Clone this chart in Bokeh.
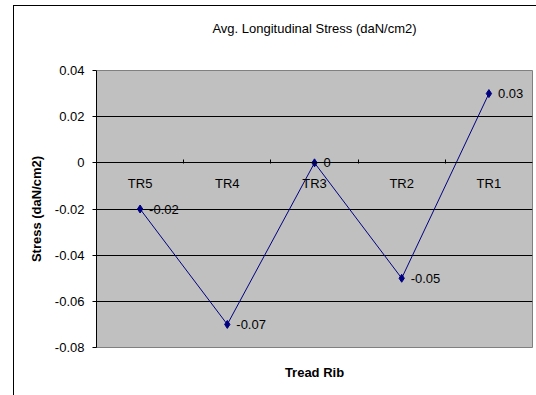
from bokeh.plotting import figure
from bokeh.models import (FixedTicker, Title, ColumnDataSource, Range1d, InlineStyleSheet,
                          LinearAxis)
from bokeh.embed import file_html
from bokeh.resources import INLINE
from bokeh.core.properties import value

categories = ["TR5", "TR4", "TR3", "TR2", "TR1"]
stress = [-0.02, -0.07, 0.0, -0.05, 0.03]
point_labels = ["-0.02", "-0.07", "0", "-0.05", "0.03"]
y_ticks = [-0.08, -0.06, -0.04, -0.02, 0.0, 0.02, 0.04]
y_tick_labels = ["-0.08", "-0.06", "-0.04", "-0.02", "0", "0.02", "0.04"]
chart_title = "Avg. Longitudinal Stress (daN/cm2)"

FONT = "Liberation Sans"
NAVY = "#000080"

xpos = [i + 0.5 for i in range(len(categories))]
src = ColumnDataSource(dict(x=xpos, y=stress, lab=point_labels))

p = figure(width=536, height=395, output_backend="svg", toolbar_location=None, title=None,
           x_axis_location=None,
           x_range=Range1d(0, len(categories)), y_range=Range1d(y_ticks[0], y_ticks[-1]),
           min_border_left=96, min_border_right=4, min_border_top=70, min_border_bottom=46)

p.background_fill_color = "#C0C0C0"
p.border_fill_color = "white"
p.outline_line_color = "#808080"

# spacer between plot area and title: one white (invisible) tick at the left edge
spacer = LinearAxis(ticker=FixedTicker(ticks=[0]), axis_line_color=None,
                    major_tick_line_color="white", minor_tick_line_color=None,
                    major_tick_in=0, major_tick_out=35, minor_tick_in=0, minor_tick_out=0,
                    major_label_standoff=0, major_label_overrides={0: ""},
                    major_label_text_font_size="1px", major_label_text_color="white")
p.add_layout(spacer, "above")

# chart title
p.add_layout(Title(text=chart_title, align="center", text_font=FONT, text_font_size="13px",
                   text_font_style="normal", text_color="black", standoff=0), "above")

# category axis crossing at zero
xa = LinearAxis(fixed_location=0,
                ticker=FixedTicker(ticks=xpos, minor_ticks=[1, 2, 3, 4]),
                major_label_overrides={xv: c for xv, c in zip(xpos, categories)},
                major_tick_line_color=None, major_tick_in=0, major_tick_out=0,
                minor_tick_in=3, minor_tick_out=1, minor_tick_line_color="black",
                axis_line_color="black", major_label_standoff=12,
                major_label_text_font=FONT, major_label_text_font_size="13px",
                major_label_text_color="black")
p.add_layout(xa, "below")

p.add_layout(Title(text="Tread Rib", align="center", text_font=FONT, text_color="black",
                   text_font_size="13px", text_font_style="bold", standoff=31), "below")

# y axis
ya = p.yaxis[0]
ya.ticker = FixedTicker(ticks=y_ticks)
ya.major_label_overrides = {t: s for t, s in zip(y_ticks, y_tick_labels)}
ya.minor_tick_line_color = None
ya.major_tick_in = 0
ya.major_tick_out = 4
ya.major_label_standoff = 8
ya.major_label_text_font = FONT
ya.major_label_text_font_size = "13px"
ya.major_label_text_color = "black"
ya.axis_line_color = "black"
ya.axis_label = "Stress (daN/cm2)"
ya.axis_label_text_font = FONT
ya.axis_label_text_font_size = "13px"
ya.axis_label_text_font_style = "bold"
ya.axis_label_text_color = "black"
ya.axis_label_standoff = 8

p.xgrid.visible = False
p.ygrid.ticker = FixedTicker(ticks=y_ticks)
p.ygrid.grid_line_color = "black"
p.ygrid.grid_line_width = 1

p.line("x", "y", source=src, line_color=NAVY, line_width=1)
p.scatter("x", "y", source=src, marker="diamond", size=8, fill_color=NAVY, line_color=NAVY)
p.text("x", "y", text="lab", source=src, x_offset=9, text_baseline="middle",
       text_font=value(FONT), text_font_size="13px", text_color="black")

# outer chart frame (only its left and top edges fall inside the window)
p.stylesheets = [InlineStyleSheet(css=(
    ":host { position: relative; }"
    ":host::after { content: ''; position: absolute; left: 13px; top: 5px;"
    " width: 600px; height: 500px; border: 1px solid black;"
    " box-sizing: border-box; pointer-events: none; }"
))]

open("out.html", "w").write(file_html(p, INLINE))
